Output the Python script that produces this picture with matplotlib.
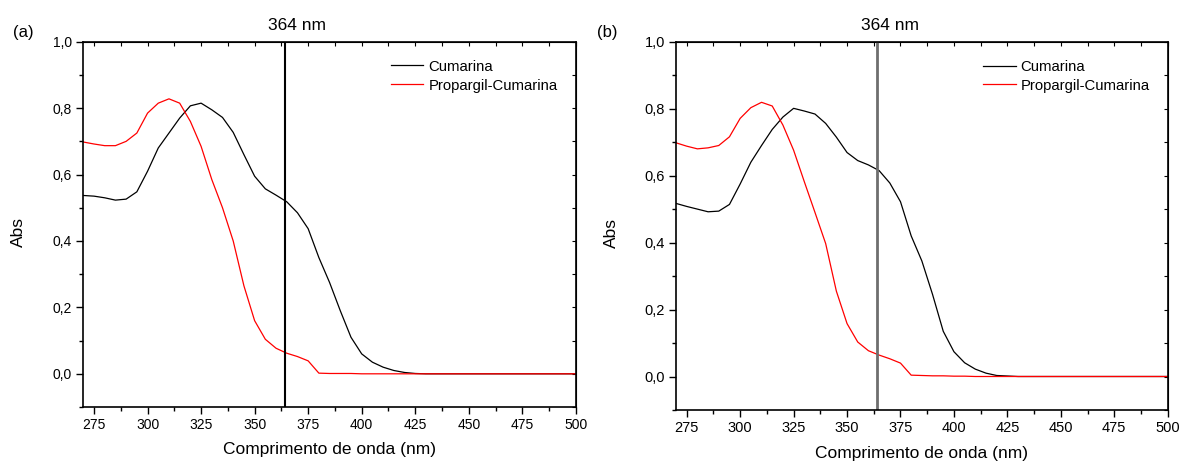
import numpy as np
import matplotlib
matplotlib.use("Agg")
import matplotlib.pyplot as plt
from matplotlib.ticker import MultipleLocator, FuncFormatter

plt.rcParams['font.family'] = ['Liberation Sans', 'DejaVu Sans']

wavelength = list(range(270, 505, 5))

cumarina_a = [0.537, 0.535, 0.530, 0.523, 0.526, 0.548, 0.610, 0.680, 0.725, 0.770,
              0.807, 0.815, 0.795, 0.772, 0.727, 0.660, 0.595, 0.557, 0.538, 0.518,
              0.485, 0.437, 0.350, 0.275, 0.190, 0.110, 0.060, 0.035, 0.020, 0.010,
              0.004, 0.001] + [0.0] * 15
propargil_a = [0.698, 0.692, 0.687, 0.687, 0.700, 0.725, 0.785, 0.815, 0.828, 0.815,
               0.760, 0.685, 0.585, 0.500, 0.400, 0.265, 0.160, 0.104, 0.077, 0.062,
               0.052, 0.039, 0.002, 0.001, 0.001, 0.001] + [0.0] * 21

cumarina_b = [0.517, 0.508, 0.500, 0.492, 0.494, 0.514, 0.575, 0.640, 0.690, 0.738,
              0.775, 0.801, 0.793, 0.784, 0.756, 0.715, 0.669, 0.645, 0.632, 0.615,
              0.578, 0.522, 0.420, 0.345, 0.245, 0.135, 0.074, 0.041, 0.022, 0.010,
              0.003, 0.0015] + [0.0] * 15
propargil_b = [0.698, 0.688, 0.680, 0.683, 0.690, 0.716, 0.771, 0.803, 0.819, 0.808,
               0.751, 0.676, 0.582, 0.490, 0.397, 0.255, 0.158, 0.103, 0.077, 0.064,
               0.053, 0.040, 0.004, 0.003, 0.002, 0.002, 0.001, 0.001] + [0.0] * 19

marker_nm = 364
panel_labels = ["(a)", "(b)"]
series_names = ["Cumarina", "Propargil-Cumarina"]

fig = plt.figure(figsize=(11.8, 4.62), dpi=100)
ax_a = fig.add_axes([0.0706, 0.119, 0.4174, 0.7907])
ax_b = fig.add_axes([0.5729, 0.1126, 0.4167, 0.7971])

panels = [(ax_a, cumarina_a, propargil_a, 'black', 1.5, 23 / 1180, 10),
          (ax_b, cumarina_b, propargil_b, '#6e6e6e', 2.0, 607 / 1180, 10.5)]

fmt = FuncFormatter(lambda v, p: f"{v:.1f}".replace('.', ','))

for i, (ax, cum, prop, vcol, vlw, lx, tfs) in enumerate(panels):
    ax.plot(wavelength, cum, color='black', lw=0.9, label=series_names[0])
    ax.plot(wavelength, prop, color='red', lw=0.9, label=series_names[1])
    ax.axvline(marker_nm, color=vcol, lw=vlw)
    ax.set_xlim(270, 500)
    ax.set_ylim(-0.1, 1.0)
    ax.xaxis.set_major_locator(MultipleLocator(25))
    ax.xaxis.set_minor_locator(MultipleLocator(12.5))
    ax.yaxis.set_major_locator(MultipleLocator(0.2))
    ax.yaxis.set_minor_locator(MultipleLocator(0.1))
    ax.yaxis.set_major_formatter(fmt)
    ax.tick_params(which='major', direction='out', length=5, width=1.0,
                   labelsize=tfs, top=False, right=False, pad=3)
    ax.tick_params(which='minor', direction='out', length=3, width=1.0,
                   top=False, right=False)
    ax2 = ax.secondary_xaxis('top')
    ax2.xaxis.set_major_locator(MultipleLocator(12.5))
    ax2.tick_params(direction='in', length=3, labeltop=False)
    ay2 = ax.secondary_yaxis('right')
    ay2.yaxis.set_major_locator(MultipleLocator(0.1))
    ay2.tick_params(direction='in', length=3, labelright=False)
    for s in ax.spines.values():
        s.set_linewidth(1.2)
    ax.set_xlabel("Comprimento de onda (nm)", fontsize=12.5)
    ax.xaxis.set_label_coords(0.5, -0.097)
    ax.set_ylabel("Abs", fontsize=12.5)
    ax.yaxis.set_label_coords(-0.116, 0.48)
    ax.text(marker_nm + 6, 1.045, f"{marker_nm} nm", transform=ax.get_xaxis_transform(),
            ha='center', va='center', fontsize=12.5)
    fig.text(lx, 1 - 33 / 462, panel_labels[i], ha='center', va='center', fontsize=12)
    ax.legend(loc='upper left', bbox_to_anchor=(0.624, 0.951), frameon=False,
              borderaxespad=0, borderpad=0,
              fontsize=10.7, handlelength=2.2, handletextpad=0.35, labelspacing=0.33)

fig.savefig("out.png", dpi=100)
